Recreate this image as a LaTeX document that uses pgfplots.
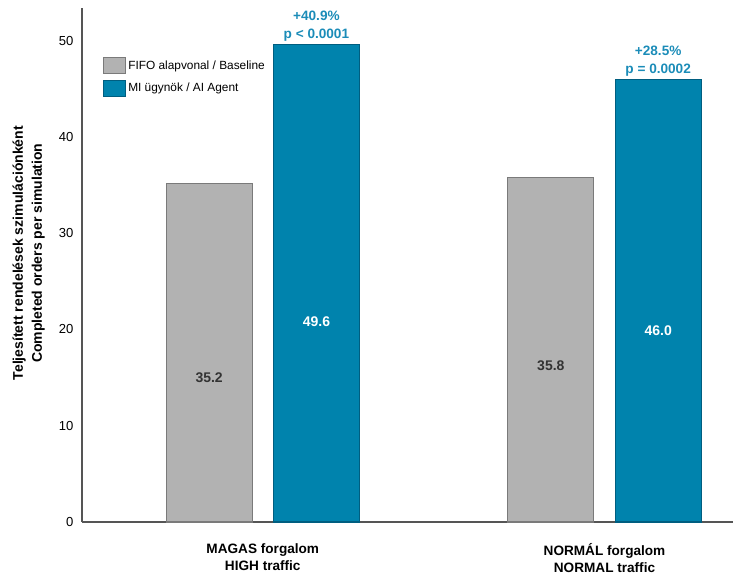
\documentclass[border=0pt]{standalone}
\usepackage{pgfplots}
\pgfplotsset{compat=1.18}
\usepackage{fontspec}
\setmainfont{Liberation Sans}
\definecolor{basegray}{HTML}{B2B2B2}
\definecolor{baseedge}{HTML}{7A7A7A}
\definecolor{aiblue}{HTML}{0083AD}
\definecolor{aiedge}{HTML}{005E80}
\definecolor{annot}{HTML}{1B8CB8}
\definecolor{axgray}{HTML}{555555}
\begin{document}
\begin{tikzpicture}
\path[use as bounding box] (0,0) rectangle (549.75pt,430.5pt);
\begin{axis}[
  at={(61.5pt,39pt)}, anchor=south west,
  width=488pt, height=385.5pt, scale only axis,
  xmin=-0.529, xmax=1.375, ymin=0, ymax=53.4,
  axis x line=bottom, axis y line=left,
  axis line style={-, axgray, line width=1.1pt},
  xtick={0,1},
  xticklabels={{MAGAS forgalom\\HIGH traffic},{NORMÁL forgalom\\NORMAL traffic}},
  xticklabel style={align=center, font=\fontsize{10.2}{13}\selectfont\bfseries, yshift=-12.5pt},
  ytick={0,10,20,30,40,50},
  major tick length=0pt,
  yticklabel style={font=\fontsize{9.8}{11}\selectfont, xshift=-3pt},
  /pgf/number format/assume math mode=true,
  ylabel={Teljesített rendelések szimulációnként\\Completed orders per simulation},
  ylabel style={align=center, font=\fontsize{10.5}{14.2}\selectfont\bfseries, at={(axis description cs:-0.050,0.523)}, anchor=south},
  legend style={at={(axis description cs:0.025,0.91)}, anchor=north west, draw=none, fill=none,
    font=\fontsize{8.9}{11}\selectfont, row sep=4pt, legend cell align=left},
  legend image code/.code={\draw[#1] (0pt,-6pt) rectangle (16.5pt,6pt);},
  clip=false,
]
\addplot[ybar, bar shift=0pt, bar width=0.252, fill=basegray, draw=baseedge, line width=0.8pt]
  coordinates {(-0.157,35.2) (0.843,35.8)};
\addlegendentry{FIFO alapvonal / Baseline}
\addplot[ybar, bar shift=0pt, bar width=0.252, fill=aiblue, draw=aiedge, line width=0.8pt]
  coordinates {(0.157,49.6) (1.157,46.0)};
\addlegendentry{MI ügynök / AI Agent}
\node[font=\fontsize{10.5}{12}\selectfont\bfseries, text=black!80] at (axis cs:-0.157,15.0) {35.2};
\node[font=\fontsize{10.5}{12}\selectfont\bfseries, text=white] at (axis cs:0.157,20.8) {49.6};
\node[font=\fontsize{10.5}{12}\selectfont\bfseries, text=black!80] at (axis cs:0.843,16.2) {35.8};
\node[font=\fontsize{10.5}{12}\selectfont\bfseries, text=white] at (axis cs:1.157,19.9) {46.0};
\node[font=\fontsize{10.2}{13.5}\selectfont\bfseries, text=annot, align=center, anchor=south, inner sep=2pt] at (axis cs:0.157,49.6) {+40.9\%\\p < 0.0001};
\node[font=\fontsize{10.2}{13.5}\selectfont\bfseries, text=annot, align=center, anchor=south, inner sep=2pt] at (axis cs:1.157,46.0) {+28.5\%\\p = 0.0002};
\end{axis}
\end{tikzpicture}
\end{document}
